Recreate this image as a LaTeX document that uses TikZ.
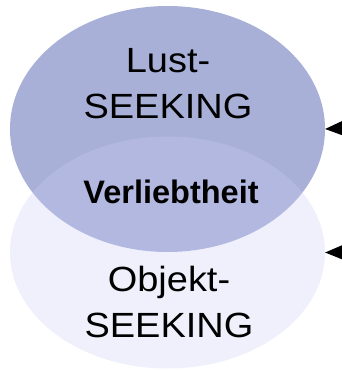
\documentclass[tikz,border=0pt]{standalone}
\usepackage{fontspec}
\setmainfont{Liberation Sans}
\usetikzlibrary{shapes.geometric,arrows.meta,positioning}
\definecolor{lustblue}{RGB}{169,176,216}
\definecolor{objektblue}{RGB}{205,205,245}
\tikzset{
  seekfont/.style={font=\fontsize{35}{46}\selectfont, align=center, inner sep=0, xscale=1.085, transform shape},
  bubble/.style={shape=ellipse, inner sep=0, outer sep=0, minimum width=315pt}
}
\begin{document}
\begin{tikzpicture}[x=1pt,y=-1pt]
                      \useasboundingbox (0,0) rectangle (341,370);
                      % the two seeking ellipses
                      \node[bubble, fill=lustblue, minimum height=246pt] (lust) at (167.5,129) {};
                      \node[bubble, fill=objektblue, fill opacity=0.3, minimum height=232pt] (objekt) at (167.5,252.5) {};
                      % label the ellipses
                      \node[seekfont] (lusttext) at (168,83.3) {Lust-\\SEEKING};
                      \node[seekfont] (objekttext) at (169,301.5) {Objekt-\\SEEKING};
                      \node[font=\fontsize{32.5}{39}\selectfont\bfseries, inner sep=0, anchor=base] (verliebt) at (171,203.3) {Verliebtheit};
                      % arrows coming in from the right
                      \coordinate (lustin) at (370,127);
                      \coordinate (objektin) at (370,252);
                      \draw[line width=2pt, -{Triangle[length=20pt,width=16pt]}] (lustin) -- (lust.east);
                      \draw[line width=2pt, -{Triangle[length=20pt,width=16pt]}] (objektin) -- (objekt.east);
\end{tikzpicture}
\end{document}
